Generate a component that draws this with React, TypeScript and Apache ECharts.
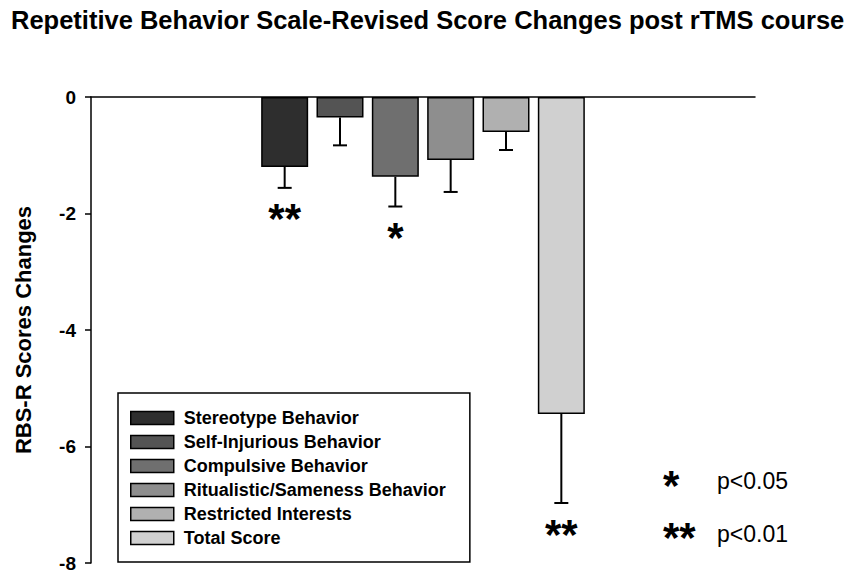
import React, { useEffect, useRef } from "react";
import * as echarts from "echarts";

// ---- data ----
const categories = [
  "Stereotype Behavior",
  "Self-Injurious Behavior",
  "Compulsive Behavior",
  "Ritualistic/Sameness Behavior",
  "Restricted Interests",
  "Total Score",
];
const meanChange = [-1.2, -0.35, -1.37, -1.08, -0.6, -5.44];
const errorSize = [0.36, 0.48, 0.51, 0.55, 0.31, 1.53];
const significance = ["**", "", "*", "", "", "**"];
const yTicks = [0, -2, -4, -6, -8];
const pLegend = [
  { mark: "*", text: "p<0.05" },
  { mark: "**", text: "p<0.01" },
];
const titleText = "Repetitive Behavior Scale-Revised Score Changes post rTMS course";
const yAxisTitle = "RBS-R Scores Changes";

// ---- layout / style ----
const leadSlots = 3;
const trailSlots = 3;
const fills = ["#2e2e2e", "#545454", "#6f6f6f", "#8e8e8e", "#b0b0b0", "#d0d0d0"];
const FONT = '"Liberation Sans", Arial, sans-serif';

export default function App() {
  const ref = useRef<HTMLDivElement>(null);

  useEffect(() => {
    if (!ref.current) return;
    const chart = echarts.init(ref.current, undefined, { renderer: "svg" });

    const slots: string[] = [];
    for (let i = 0; i < leadSlots; i++) slots.push("pad" + i);
    categories.forEach((c) => slots.push(c));
    for (let i = 0; i < trailSlots; i++) slots.push("padEnd" + i);

    const barSeries = categories.map((name, i) => {
      const data: any[] = slots.map(() => "-");
      data[leadSlots + i] = meanChange[i];
      return {
        name,
        type: "bar",
        stack: "all",
        barWidth: 47,
        data,
        itemStyle: { color: fills[i], borderColor: "#000", borderWidth: 1.5 },
      };
    });

    const errData = categories.map((_, i) => [leadSlots + i, meanChange[i], errorSize[i]]);

    const errSeries = {
      type: "custom",
      name: "err",
      clip: false,
      z: 5,
      data: errData,
      encode: { x: 0, y: 1 },
      renderItem: (params: any, api: any) => {
        const x = api.value(0);
        const m = api.value(1);
        const e = api.value(2);
        const p0 = api.coord([x, m]);
        const p1 = api.coord([x, m - e]);
        const sig = significance[params.dataIndex];
        const children: any[] = [
          {
            type: "line",
            shape: { x1: p0[0], y1: p0[1], x2: p1[0], y2: p1[1] },
            style: { stroke: "#000", lineWidth: 2 },
          },
          {
            type: "line",
            shape: { x1: p1[0] - 7, y1: p1[1], x2: p1[0] + 7, y2: p1[1] },
            style: { stroke: "#000", lineWidth: 2 },
          },
        ];
        if (sig) {
          children.push({
            type: "text",
            x: p1[0],
            y: p1[1] + 31,
            style: {
              text: sig,
              align: "center",
              verticalAlign: "middle",
              font: `bold 42px ${FONT}`,
              fill: "#000",
            },
          });
        }
        return { type: "group", children };
      },
    };

    const option: any = {
      animation: false,
      backgroundColor: "#fff",
      title: {
        text: titleText,
        left: 6,
        top: 2,
        textStyle: { fontFamily: FONT, fontWeight: "bold", fontSize: 25.5, color: "#000" },
      },
      grid: { left: 91, right: 95, top: 97, bottom: 14, containLabel: false },
      legend: {
        data: categories,
        orient: "vertical",
        left: 118,
        top: 393,
        padding: [16, 24, 15, 12],
        itemWidth: 43,
        itemHeight: 13,
        itemGap: 6,
        borderColor: "#000",
        borderWidth: 1.5,
        backgroundColor: "#fff",
        icon: "rect",
        itemStyle: { borderColor: "#000", borderWidth: 1.5 },
        textStyle: {
          fontFamily: FONT,
          fontWeight: "bold",
          fontSize: 18,
          color: "#000",
          padding: [0, 0, 0, 5],
        },
        selectedMode: false,
      },
      xAxis: {
        type: "category",
        data: slots,
        axisLine: { onZero: true, lineStyle: { color: "#000", width: 1.5 } },
        axisTick: { show: false },
        axisLabel: { show: false },
        splitLine: { show: false },
      },
      yAxis: {
        type: "value",
        min: -8,
        max: 0,
        interval: 2,
        name: yAxisTitle,
        nameLocation: "middle",
        nameGap: 57,
        nameTextStyle: { fontFamily: FONT, fontWeight: "bold", fontSize: 22, color: "#000" },
        axisLine: { show: true, lineStyle: { color: "#000", width: 1.5 } },
        axisTick: { show: true, inside: false, length: 6, lineStyle: { color: "#000", width: 1.5 } },
        axisLabel: {
          margin: 15,
          fontFamily: FONT,
          fontWeight: "bold",
          fontSize: 19,
          color: "#000",
          customValues: yTicks,
          formatter: (v: number) => String(v),
        },
        splitLine: { show: false },
      },
      graphic: pLegend.flatMap((p, i) => [
        {
          type: "text",
          x: 663,
          y: 485 + i * 52,
          style: {
            text: p.mark,
            font: `bold 42px ${FONT}`,
            fill: "#000",
            align: "left",
            verticalAlign: "middle",
          },
        },
        {
          type: "text",
          x: 717,
          y: 481 + i * 53,
          style: {
            text: p.text,
            font: `23px ${FONT}`,
            fill: "#000",
            align: "left",
            verticalAlign: "middle",
          },
        },
      ]),
      series: [...barSeries, errSeries],
    };

    chart.setOption(option);
    return () => chart.dispose();
  }, []);

  return (
    <div
      ref={ref}
      style={{ position: "fixed", left: 0, top: 0, width: 850, height: 577, background: "#fff" }}
    />
  );
}
